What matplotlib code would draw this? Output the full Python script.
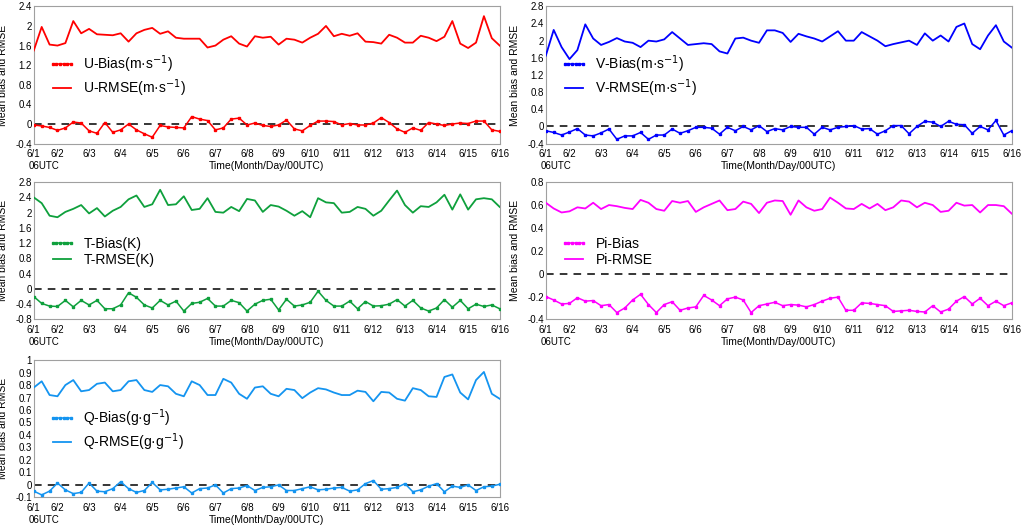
import numpy as np
import matplotlib
matplotlib.use("Agg")
import matplotlib.pyplot as plt

plt.rcParams['font.family'] = ['Liberation Sans', 'DejaVu Sans']

# 6-hourly steps from 6/1 06UTC to 6/16 00UTC
tick_labels = ['6/%d' % d for d in range(1, 17)]

u_bias = [-0.02, -0.04, -0.07, -0.13, -0.08, 0.04, 0.02, -0.14, -0.19, 0.03,
          -0.17, -0.12, 0.0, -0.12, -0.2, -0.27, -0.03, -0.06, -0.07, -0.08,
          0.15, 0.1, 0.07, -0.12, -0.08, 0.1, 0.12, -0.02, 0.02, -0.03,
          -0.05, -0.02, 0.08, -0.1, -0.14, -0.03, 0.06, 0.06, 0.05, -0.02,
          0.01, -0.02, -0.02, 0.02, 0.13, 0.03, -0.1, -0.17, -0.08, -0.13,
          0.03, 0.0, -0.03, 0.0, 0.02, 0.01, 0.06, 0.06, -0.12, -0.15]
u_rmse = [1.5, 1.98, 1.62, 1.6, 1.65, 2.1, 1.85, 1.94, 1.83, 1.82,
          1.81, 1.85, 1.68, 1.85, 1.92, 1.96, 1.84, 1.89, 1.76, 1.74,
          1.74, 1.74, 1.56, 1.6, 1.72, 1.79, 1.64, 1.58, 1.79, 1.76,
          1.78, 1.62, 1.74, 1.72, 1.66, 1.76, 1.84, 2.0, 1.79, 1.84,
          1.8, 1.85, 1.68, 1.67, 1.64, 1.82, 1.76, 1.66, 1.66, 1.8,
          1.76, 1.69, 1.78, 2.1, 1.64, 1.55, 1.66, 2.2, 1.75, 1.6]

v_bias = [-0.1, -0.14, -0.2, -0.13, -0.05, -0.2, -0.22, -0.15, -0.06, -0.3,
          -0.22, -0.22, -0.14, -0.3, -0.2, -0.2, -0.06, -0.16, -0.1, -0.02,
          -0.02, -0.04, -0.18, -0.02, -0.1, 0.0, -0.08, 0.02, -0.12, -0.05,
          -0.08, 0.0, -0.02, -0.02, -0.18, -0.02, -0.08, -0.02, 0.0, 0.02,
          -0.06, -0.05, -0.18, -0.1, 0.02, 0.02, -0.17, 0.0, 0.12, 0.1,
          0.0, 0.12, 0.05, 0.04, -0.16, 0.0, -0.08, 0.14, -0.2, -0.1]
v_rmse = [1.65, 2.25, 1.85, 1.57, 1.78, 2.38, 2.05, 1.9, 1.97, 2.06,
          1.98, 1.95, 1.85, 2.0, 1.98, 2.03, 2.2, 2.05, 1.9, 1.92,
          1.94, 1.92, 1.75, 1.7, 2.05, 2.07, 2.0, 1.95, 2.24, 2.24,
          2.18, 1.97, 2.16, 2.1, 2.05, 1.98, 2.1, 2.22, 2.0, 2.0,
          2.2, 2.1, 2.0, 1.87, 1.92, 1.96, 2.0, 1.9, 2.17, 2.0,
          2.12, 1.98, 2.32, 2.4, 1.92, 1.8, 2.12, 2.36, 1.98, 1.84]

t_bias = [-0.2, -0.38, -0.45, -0.46, -0.3, -0.47, -0.3, -0.42, -0.3, -0.52,
          -0.52, -0.42, -0.1, -0.22, -0.42, -0.5, -0.3, -0.42, -0.32, -0.58,
          -0.38, -0.35, -0.25, -0.45, -0.45, -0.3, -0.36, -0.58, -0.4, -0.3,
          -0.27, -0.55, -0.27, -0.45, -0.42, -0.35, -0.06, -0.3, -0.45, -0.45,
          -0.32, -0.52, -0.33, -0.45, -0.44, -0.4, -0.28, -0.45, -0.3, -0.5,
          -0.58, -0.5, -0.28, -0.48, -0.3, -0.52, -0.4, -0.46, -0.42, -0.52]
t_rmse = [2.4, 2.25, 1.92, 1.88, 2.02, 2.1, 2.2, 1.98, 2.12, 1.9,
          2.05, 2.15, 2.35, 2.45, 2.15, 2.22, 2.6, 2.2, 2.22, 2.43,
          2.07, 2.1, 2.38, 2.02, 2.0, 2.15, 2.04, 2.36, 2.32, 2.02,
          2.2, 2.16, 2.05, 1.92, 2.04, 1.88, 2.38, 2.27, 2.25, 2.0,
          2.02, 2.15, 2.1, 1.92, 2.05, 2.32, 2.58, 2.2, 2.0, 2.17,
          2.15, 2.27, 2.47, 2.08, 2.48, 2.08, 2.35, 2.38, 2.35, 2.15]

pi_bias = [-0.2, -0.23, -0.265, -0.26, -0.21, -0.24, -0.235, -0.28, -0.27, -0.34,
           -0.3, -0.23, -0.18, -0.27, -0.34, -0.27, -0.245, -0.32, -0.3, -0.29,
           -0.19, -0.23, -0.28, -0.22, -0.205, -0.23, -0.34, -0.28, -0.265, -0.25,
           -0.28, -0.27, -0.275, -0.29, -0.27, -0.24, -0.215, -0.205, -0.32, -0.32,
           -0.255, -0.26, -0.27, -0.28, -0.33, -0.325, -0.32, -0.33, -0.335, -0.28,
           -0.335, -0.31, -0.24, -0.2, -0.265, -0.215, -0.28, -0.24, -0.28, -0.255]
pi_rmse = [0.62, 0.57, 0.535, 0.545, 0.58, 0.57, 0.62, 0.565, 0.6, 0.59,
           0.575, 0.565, 0.645, 0.62, 0.565, 0.55, 0.635, 0.62, 0.635, 0.54,
           0.58, 0.61, 0.64, 0.555, 0.565, 0.63, 0.61, 0.53, 0.62, 0.64,
           0.635, 0.515, 0.64, 0.58, 0.55, 0.565, 0.665, 0.62, 0.57, 0.565,
           0.61, 0.57, 0.61, 0.555, 0.58, 0.64, 0.63, 0.58, 0.62, 0.6,
           0.54, 0.55, 0.62, 0.595, 0.6, 0.535, 0.6, 0.6, 0.59, 0.525]

q_bias = [-0.05, -0.08, -0.05, 0.015, -0.04, -0.07, -0.06, 0.015, -0.05, -0.055,
          -0.03, 0.025, -0.03, -0.06, -0.045, 0.02, -0.04, -0.035, -0.025, -0.015,
          -0.065, -0.03, -0.025, 0.0, -0.065, -0.03, -0.025, -0.005, -0.045, -0.02,
          -0.015, 0.0, -0.045, -0.045, -0.03, -0.015, -0.04, -0.035, -0.025, -0.02,
          -0.05, -0.04, 0.01, 0.035, -0.035, -0.03, -0.02, 0.01, -0.055, -0.04,
          -0.01, 0.01, -0.055, -0.01, -0.02, 0.0, -0.045, -0.015, -0.01, 0.005]
q_rmse = [0.78, 0.83, 0.72, 0.71, 0.8, 0.84, 0.75, 0.76, 0.81, 0.82,
          0.75, 0.76, 0.83, 0.84, 0.76, 0.745, 0.8, 0.79, 0.73, 0.71,
          0.83, 0.8, 0.72, 0.72, 0.85, 0.82, 0.73, 0.69, 0.78, 0.79,
          0.73, 0.71, 0.77, 0.76, 0.695, 0.74, 0.775, 0.765, 0.74, 0.72,
          0.72, 0.755, 0.745, 0.67, 0.745, 0.74, 0.69, 0.675, 0.775, 0.76,
          0.71, 0.705, 0.865, 0.885, 0.74, 0.685, 0.84, 0.905, 0.73, 0.69]

panels = [
    ('U-Bias(m·s$^{-1}$)', 'U-RMSE(m·s$^{-1}$)', u_bias, u_rmse, '#ff0000', np.arange(-0.4, 2.41, 0.4)),
    ('V-Bias(m·s$^{-1}$)', 'V-RMSE(m·s$^{-1}$)', v_bias, v_rmse, '#0000ff', np.arange(-0.4, 2.81, 0.4)),
    ('T-Bias(K)', 'T-RMSE(K)', t_bias, t_rmse, '#0ea03c', np.arange(-0.8, 2.81, 0.4)),
    ('Pi-Bias', 'Pi-RMSE', pi_bias, pi_rmse, '#ff00ff', np.arange(-0.4, 0.81, 0.2)),
    ('Q-Bias(g·g$^{-1}$)', 'Q-RMSE(g·g$^{-1}$)', q_bias, q_rmse, '#1494f0', np.arange(-0.1, 1.01, 0.1)),
]

positions = [(0.033, 0.728), (0.533, 0.728), (0.033, 0.395), (0.533, 0.395), (0.033, 0.058)]
w, h = 0.455, 0.26

fig = plt.figure(figsize=(10.24, 5.28), dpi=100)

for (lb, lr, bias, rmse, col, yt), (x0, y0) in zip(panels, positions):
    ax = fig.add_axes([x0, y0, w, h])
    x = np.arange(len(bias))
    ax.axhline(0, color='black', lw=1.1, ls=(0, (5, 4)), zorder=1)
    ax.plot(x, bias, color=col, lw=1.1, marker='s', ms=2, label=lb, zorder=3)
    ax.plot(x, rmse, color=col, lw=1.3, label=lr, zorder=3)
    ax.set_xlim(0, len(bias) - 1)
    ax.set_ylim(yt[0], yt[-1])
    ax.set_yticks(yt)
    ax.set_yticklabels(['%g' % round(v, 2) for v in yt])
    ax.set_xticks([0] + list(range(3, len(bias), 4)))
    ax.set_xticklabels(tick_labels)
    ax.tick_params(labelsize=7, length=0)
    ax.tick_params(axis='x', pad=4)
    ax.tick_params(axis='y', pad=1.5)
    ax.text(-0.012, -0.125, '06UTC', transform=ax.transAxes, fontsize=7,
            ha='left', va='top')
    for s in ax.spines.values():
        s.set_color('#a0a0a0')
    ax.set_ylabel('Mean bias and RMSE', fontsize=7.5)
    ax.yaxis.set_label_coords(-0.055, 0.5)
    ax.set_xlabel('Time(Month/Day/00UTC)', fontsize=7.5)
    ax.xaxis.set_label_coords(0.5, -0.125)
    ax.xaxis.label.set_verticalalignment('top')
    ax.legend(loc='center left', bbox_to_anchor=(0.02, 0.49), frameon=False,
              fontsize=10, handlelength=1.9, handletextpad=0.6, numpoints=6,
              borderaxespad=0, labelspacing=0.15)

fig.savefig('out.png', dpi=100)
